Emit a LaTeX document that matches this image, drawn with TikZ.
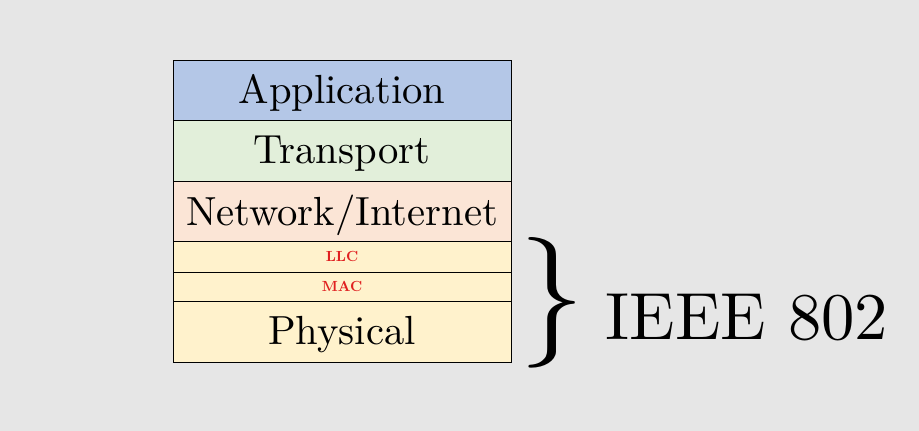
\documentclass[tikz,border=0pt]{standalone}
\usepackage{fontspec}
\setmainfont{lmroman10-regular.otf}[BoldFont=lmroman10-bold.otf]
\usepackage{xcolor}
\definecolor{bg}{HTML}{E6E6E6}
\definecolor{appc}{HTML}{B4C7E7}
\definecolor{trac}{HTML}{E2EFDA}
\definecolor{netc}{HTML}{FBE5D6}
\definecolor{linkc}{HTML}{FFF2CC}
\definecolor{lblred}{HTML}{E02020}
\begin{document}
\begin{tikzpicture}[x=0.75pt,y=-0.75pt,
  layer/.style={draw=black, line width=0.6pt, minimum width=338*0.75pt, inner sep=0pt, text depth=1pt, font=\fontsize{30.5}{32}\selectfont},
  sublayer/.style={draw=black, line width=0.6pt, minimum width=338*0.75pt, inner sep=0pt, font=\fontsize{11}{12}\selectfont\bfseries\color{lblred}}]
\fill[bg] (0,0) rectangle (919,431);
\useasboundingbox (0,0) rectangle (919,431);
\node[layer, fill=appc, minimum height=60*0.75pt] (app) at (342,90) {Application};
\node[layer, fill=trac, minimum height=61*0.75pt] (tra) at (342,150.5) {Transport};
\node[layer, fill=netc, minimum height=60*0.75pt] (net) at (342,211) {Network/Internet};
\node[sublayer, fill=linkc, minimum height=31*0.75pt] (llc) at (342,256.5) {LLC};
\node[sublayer, fill=linkc, minimum height=29*0.75pt] (mac) at (342,286.5) {MAC};
\node[layer, fill=linkc, minimum height=61*0.75pt] (phy) at (342,331.5) {Physical};
\node[inner sep=0pt, anchor=center, font=\fontsize{98}{100}\selectfont] (brace) at (552,302.5) {\}};
\node[inner sep=0pt, font=\fontsize{50}{52}\selectfont] (ieee) at (747,317) {IEEE 802};
\end{tikzpicture}
\end{document}
